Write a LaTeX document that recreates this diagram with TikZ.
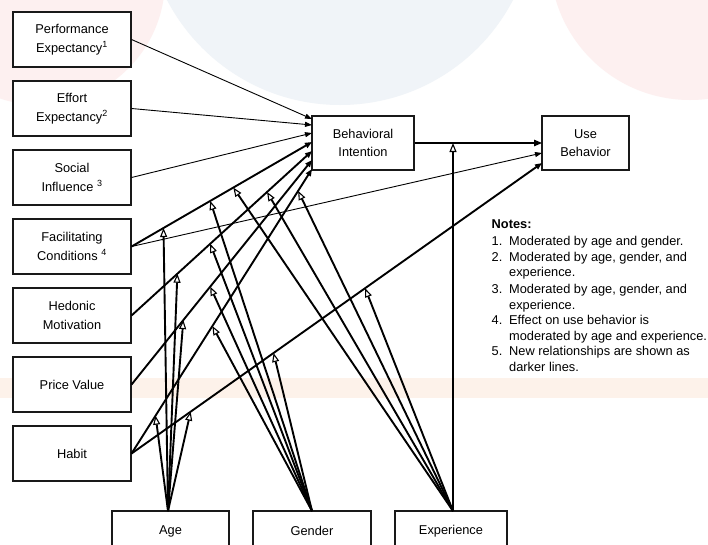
\documentclass[tikz,border=0pt]{standalone}
\usepackage{fontspec}
\setmainfont{Liberation Sans}
\usetikzlibrary{arrows.meta,calc}
\definecolor{wmpink}{HTML}{FDF0F0}
\definecolor{wmblue}{HTML}{F0F4F8}
\definecolor{wmband}{HTML}{FDF2EA}
\begin{document}
\begin{tikzpicture}[x=1pt,y=-1pt,
  box/.style={draw=black!90, line width=1.1pt, fill=white, align=center,
    inner sep=0pt, font=\fontsize{12.8}{18.5}\selectfont},
  leftbox/.style={box, minimum width=118pt, minimum height=55pt},
  midbox/.style={box, minimum height=54pt},
  modbox/.style={box, minimum height=40pt},
  thinlink/.style={line width=0.9pt, -{Triangle[length=7pt,width=5pt]}},
  newlink/.style={line width=1.9pt, -{Triangle[length=7pt,width=5.5pt]}},
  modlink/.style={line width=1.9pt, -{Triangle[open,length=9pt,width=7pt,line width=1.1pt]}},
  notes/.style={align=left, anchor=north west, inner sep=0pt,
    font=\fontsize{12.8}{15.3}\selectfont}]
\useasboundingbox (0,0) rectangle (708,544);
\fill[white] (0,0) rectangle (708,544);

% faint background tints
\begin{scope}
  \clip (0,0) rectangle (708,544);
  \fill[wmpink] (40,-20) circle[radius=125];
  \fill[wmblue] (340,-90) circle[radius=195];
  \fill[wmpink] (690,-40) circle[radius=140];
  \fill[wmband] (0,378) rectangle (708,398);
\end{scope}

% construct boxes
\node[leftbox] (pe) at (72,39.5)  {Performance\\Expectancy\textsuperscript{1}};
\node[leftbox] (ee) at (72,108.5) {Effort\\Expectancy\textsuperscript{2}};
\node[leftbox] (si) at (72,177.5) {Social\\Influence \textsuperscript{3}};
\node[leftbox] (fc) at (72,246.5) {Facilitating\\Conditions \textsuperscript{4}};
\node[leftbox] (hm) at (72,315.5) {Hedonic\\Motivation};
\node[leftbox] (pv) at (72,384.5) {Price Value};
\node[leftbox] (hb) at (72,453.5) {Habit};
\node[midbox, minimum width=102pt] (bi) at (363,143) {Behavioral\\Intention};
\node[midbox, minimum width=87pt] (ub) at (585.5,143) {Use\\Behavior};

% moderator boxes (run past the lower edge)
\node[modbox, minimum width=117pt] (age) at (170.5,531) {Age};
\node[modbox, minimum width=118pt] (gen) at (312,531) {Gender};
\node[modbox, minimum width=112pt] (exp) at (451,531) {Experience};

% arrow end points on the two outcome boxes
\coordinate (tpe) at (312,119);
\coordinate (tee) at (312,125);
\coordinate (tsi) at (312,133);
\coordinate (tfc) at (312,142);
\coordinate (thm) at (312,151);
\coordinate (tpv) at (312,160);
\coordinate (thb) at (312,169);
\coordinate (ubi) at (542,143);
\coordinate (ufc) at (542,153);
\coordinate (uhb) at (542,163);

% moderator origins
\coordinate (oa) at (168,511);
\coordinate (og) at (312,511);
\coordinate (oe) at (453,511);
\coordinate (biub) at (453,143);

% original relationships
\draw[thinlink] (pe.east) -- (tpe);
\draw[thinlink] (ee.east) -- (tee);
\draw[thinlink] (si.east) -- (tsi);
\draw[thinlink] (fc.east) -- (ufc);
\draw[line width=1.2pt, -{Triangle[length=8pt,width=6.5pt]}] (bi.east) -- (ubi);

% new relationships
\draw[newlink] (fc.east) -- (tfc);
\draw[newlink] (hm.east) -- (thm);
\draw[newlink] (pv.east) -- (tpv);
\draw[newlink] (hb.east) -- (thb);
\draw[newlink] (hb.east) -- (uhb);

% age
\draw[modlink] (oa) -- ($(fc.east)!0.177!(tfc)$);
\draw[modlink] (oa) -- ($(hm.east)!0.254!(thm)$);
\draw[modlink] (oa) -- ($(pv.east)!0.287!(tpv)$);
\draw[modlink] (oa) -- ($(hb.east)!0.133!(thb)$);
\draw[modlink] (oa) -- ($(hb.east)!0.144!(uhb)$);
% gender
\draw[modlink] (og) -- ($(fc.east)!0.436!(tfc)$);
\draw[modlink] (og) -- ($(hm.east)!0.436!(thm)$);
\draw[modlink] (og) -- ($(pv.east)!0.436!(tpv)$);
\draw[modlink] (og) -- ($(hb.east)!0.448!(thb)$);
\draw[modlink] (og) -- ($(hb.east)!0.346!(uhb)$);
% experience
\draw[modlink] (oe) -- ($(fc.east)!0.564!(tfc)$);
\draw[modlink] (oe) -- ($(hm.east)!0.751!(thm)$);
\draw[modlink] (oe) -- ($(hb.east)!0.923!(thb)$);
\draw[modlink] (oe) -- ($(hb.east)!0.569!(uhb)$);
\draw[modlink] (oe) -- (biub);

% notes
\node[notes] (nt) at (491.5,219) {%
  \textbf{Notes:}\\[2.5pt]
  \makebox[17.5pt][l]{1.}Moderated by age and gender.\\[0.5pt]
  \makebox[17.5pt][l]{2.}Moderated by age, gender, and\\
  \hspace*{17.5pt}experience.\\[1.5pt]
  \makebox[17.5pt][l]{3.}Moderated by age, gender, and\\
  \hspace*{17.5pt}experience.\\[0.5pt]
  \makebox[17.5pt][l]{4.}Effect on use behavior is\\
  \hspace*{17.5pt}moderated by age and experience.\\[0.5pt]
  \makebox[17.5pt][l]{5.}New relationships are shown as\\
  \hspace*{17.5pt}darker lines.};
\end{tikzpicture}
\end{document}
